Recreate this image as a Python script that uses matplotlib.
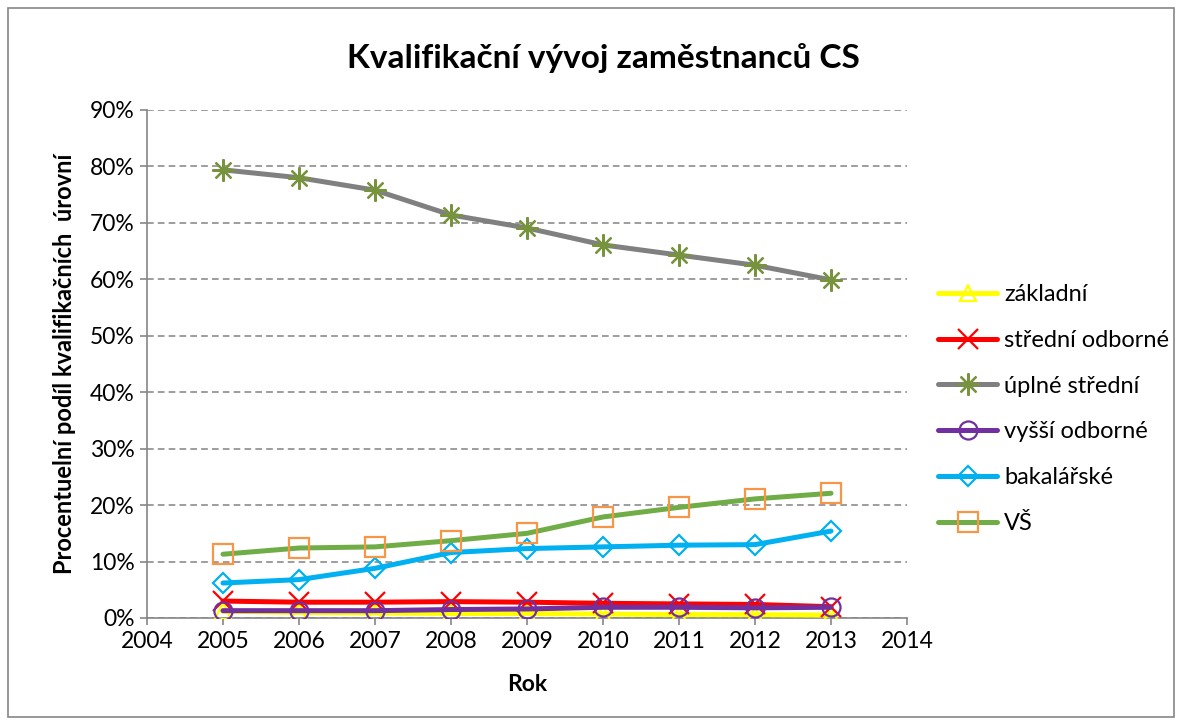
import matplotlib
matplotlib.use("Agg")
import matplotlib.pyplot as plt
from matplotlib.ticker import PercentFormatter, MultipleLocator
from matplotlib.patches import Rectangle

plt.rcParams['font.family'] = ['Lato', 'DejaVu Sans']

years = [2005, 2006, 2007, 2008, 2009, 2010, 2011, 2012, 2013]
zakladni = [1.2, 1.0, 0.9, 0.8, 0.8, 0.7, 0.6, 0.6, 0.5]
stredni_odborne = [3.0, 2.8, 2.8, 2.9, 2.8, 2.6, 2.5, 2.4, 2.0]
uplne_stredni = [79.4, 78.0, 75.8, 71.4, 69.1, 66.1, 64.3, 62.5, 59.9]
vyssi_odborne = [1.3, 1.3, 1.3, 1.5, 1.6, 1.9, 1.9, 1.8, 1.9]
bakalarske = [6.2, 6.8, 8.8, 11.6, 12.3, 12.6, 12.9, 13.0, 15.4]
vs = [11.3, 12.4, 12.6, 13.7, 15.0, 17.9, 19.6, 21.1, 22.1]

labels = ['základní', 'střední odborné', 'úplné střední', 'vyšší odborné', 'bakalářské', 'VŠ']

fig = plt.figure(figsize=(11.82, 7.25), dpi=100)
ax = fig.add_axes([147/1182, 1-618/725, (907-147)/1182, (618-110)/725])

fig.patches.append(Rectangle((8/1182, 8/725), 1166/1182, 709/725, transform=fig.transFigure,
                             fill=False, edgecolor='#868686', linewidth=1.2))

ast = (8, 2, 0)
series = [
    (zakladni, '#FFFF00', '#FFFF00', '^', 12),
    (stredni_odborne, '#FF0000', '#FF0000', 'x', 14),
    (uplne_stredni, '#808080', '#77933C', ast, 16),
    (vyssi_odborne, '#7030A0', '#7030A0', 'o', 13),
    (bakalarske, '#00B0F0', '#00B0F0', 'D', 10),
    (vs, '#70AD47', '#F79646', 's', 14),
]
for (vals, lc, mc, mk, ms), lab in zip(series, labels):
    ax.plot(years, vals, color=lc, linewidth=3.6, marker=mk, markersize=ms,
            markerfacecolor='none', markeredgecolor=mc, markeredgewidth=1.6,
            label=lab, zorder=3, solid_capstyle='round')

ax.set_xlim(2004, 2014)
ax.set_ylim(0, 90)
ax.xaxis.set_major_locator(MultipleLocator(1))
ax.yaxis.set_major_locator(MultipleLocator(10))
ax.yaxis.set_major_formatter(PercentFormatter(decimals=0))
ax.grid(axis='y', color='#8c8c8c', linestyle=(0, (4, 2.5)), linewidth=1.2, zorder=0)
for s in ['top', 'right']:
    ax.spines[s].set_visible(False)
for s in ['left', 'bottom']:
    ax.spines[s].set_color('#868686')
    ax.spines[s].set_linewidth(1.2)
ax.tick_params(axis='both', direction='out', length=5, color='#868686', width=1.2,
               labelsize=16.5, pad=4)

ax.set_xlabel('Rok', fontsize=16.5, fontweight='bold', labelpad=16)
ax.set_ylabel('Procentuelní podíl kvalifikačních  úrovní', fontsize=17, fontweight='bold', labelpad=10)
fig.text(603/1182, 1-58/725, 'Kvalifikační vývoj zaměstnanců CS', fontsize=24, fontweight='bold',
         ha='center', va='center')

leg = ax.legend(loc='center left', bbox_to_anchor=(938/1182, 1-409/725), bbox_transform=fig.transFigure,
                frameon=False, fontsize=17, handlelength=2.5, labelspacing=1.05, handletextpad=0.3,
                borderaxespad=0, borderpad=0)

fig.savefig('out.png', dpi=100)
